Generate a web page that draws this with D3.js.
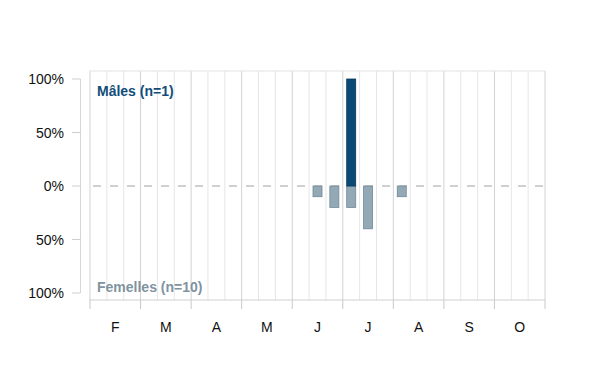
<!DOCTYPE html>
<html><head><meta charset="utf-8">
<script src="https://cdn.jsdelivr.net/npm/d3@7"></script>
<style>body{margin:0;background:#fff}svg{display:block}</style>
</head><body>
<svg id="c" width="600" height="390"></svg>
<script>
const months = ["F","M","A","M","J","J","A","S","O"];
const decadeIndex = [13, 14, 15, 16, 18]; // decade positions (0 = 1st decade of Feb)
const malesPct =   [0, 0, 100, 0, 0];
const femalesPct = [10, 20, 20, 40, 10];
const yTicks = [100, 50, 0, -50, -100];
const yTickLabels = ["100%", "50%", "0%", "50%", "100%"];
const labelMales = "Mâles (n=1)";
const labelFemales = "Femelles (n=10)";

const svg = d3.select("#c");
const x = d3.scaleLinear().domain([0, 27]).range([90, 545]);
const y = d3.scaleLinear().domain([-100, 100]).range([293, 79]);
const font = "Liberation Sans, Arial, sans-serif";

const g = svg.append("g");
d3.range(0, 28).forEach(i => {
  g.append("line").attr("x1", x(i)).attr("x2", x(i)).attr("y1", 71).attr("y2", 300)
    .attr("stroke", i % 3 === 0 ? "#d2d2d2" : "#e6e6e6").attr("stroke-width", 1);
});
g.append("line").attr("x1", 89).attr("x2", 545).attr("y1", 71).attr("y2", 71).attr("stroke", "#e3e3e3");
g.append("line").attr("x1", 89).attr("x2", 545).attr("y1", 300).attr("y2", 300).attr("stroke", "#d0d0d0");
d3.range(0, 10).forEach(i => {
  g.append("line").attr("x1", x(i*3)).attr("x2", x(i*3)).attr("y1", 300).attr("y2", 309).attr("stroke", "#c8c8c8");
});
svg.append("g").selectAll("text").data(months).join("text")
  .attr("x", (d, i) => x(i*3 + 1.5)).attr("y", 332).attr("text-anchor", "middle")
  .attr("font-family", font).attr("font-size", 14).attr("fill", "#111").text(d => d);

svg.append("line").attr("x1", 80.5).attr("x2", 80.5).attr("y1", y(100)).attr("y2", y(-100)).attr("stroke", "#d6d6d6");
yTicks.forEach((t, i) => {
  svg.append("line").attr("x1", 72).attr("x2", 80.5).attr("y1", y(t)).attr("y2", y(t)).attr("stroke", "#cfcfcf");
  svg.append("text").attr("x", 64).attr("y", y(t) + 5).attr("text-anchor", "end")
    .attr("font-family", font).attr("font-size", 14).attr("fill", "#111").text(yTickLabels[i]);
});

svg.append("line").attr("x1", 93).attr("x2", 545).attr("y1", y(0)).attr("y2", y(0))
  .attr("stroke", "#a0a0a0").attr("stroke-dasharray", "8,9");

const bw = 9;
const bars = svg.append("g");
decadeIndex.forEach((d, i) => {
  const cx = x(d + 0.5);
  if (femalesPct[i] > 0) {
    bars.append("rect").attr("x", cx - bw/2).attr("y", y(0)).attr("width", bw)
      .attr("height", y(-femalesPct[i]) - y(0))
      .attr("fill", "#93a9b6").attr("stroke", "#718896").attr("stroke-width", 0.8);
  }
  if (malesPct[i] > 0) {
    bars.append("rect").attr("x", cx - bw/2).attr("y", y(malesPct[i])).attr("width", bw)
      .attr("height", y(0) - y(malesPct[i]))
      .attr("fill", "#0b4a75").attr("stroke", "#083a5c").attr("stroke-width", 0.8);
  }
});

svg.append("text").attr("x", 97).attr("y", 96).attr("font-family", font).attr("font-size", 14)
  .attr("font-weight", "bold").attr("fill", "#114d78").text(labelMales);
svg.append("text").attr("x", 97).attr("y", 292).attr("font-family", font).attr("font-size", 14)
  .attr("font-weight", "bold").attr("fill", "#7f93a1").text(labelFemales);
</script>
</body></html>
